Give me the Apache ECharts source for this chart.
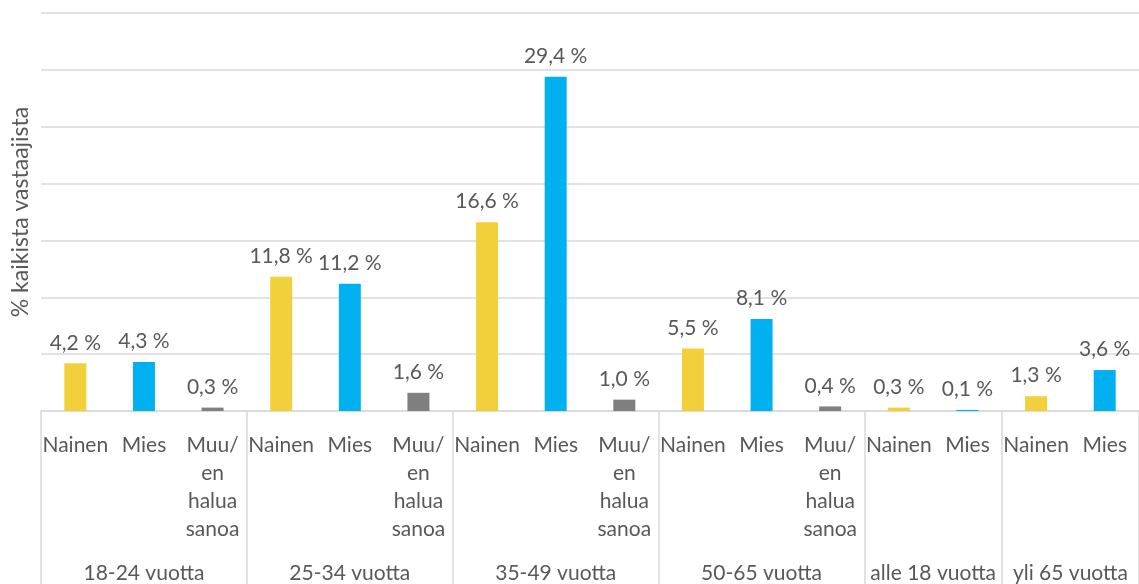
<!DOCTYPE html>
<html>
<head>
<meta charset="utf-8">
<script src="https://cdn.jsdelivr.net/npm/echarts@6/dist/echarts.min.js"></script>
<style>html,body{margin:0;padding:0;background:#fff;}#c{width:1139px;height:584px;}</style>
</head>
<body>
<div id="c"></div>
<script>
// Data
const itemLabels = ['Nainen','Mies','Muu/\nen\nhalua\nsanoa','Nainen','Mies','Muu/\nen\nhalua\nsanoa','Nainen','Mies','Muu/\nen\nhalua\nsanoa','Nainen','Mies','Muu/\nen\nhalua\nsanoa','Nainen','Mies','Nainen','Mies'];
const itemKinds = ['N','M','O','N','M','O','N','M','O','N','M','O','N','M','N','M'];
const values = [4.2, 4.3, 0.3, 11.8, 11.2, 1.6, 16.6, 29.4, 1.0, 5.5, 8.1, 0.4, 0.3, 0.1, 1.3, 3.6];
const groupNames = ['18-24 vuotta','25-34 vuotta','35-49 vuotta','50-65 vuotta','alle 18 vuotta','yli 65 vuotta'];
const groupSizes = [3, 3, 3, 3, 2, 2];
const yTitle = '% kaikista vastaajista';

const palette = { N: '#F2D03B', M: '#00B0F0', O: '#7F7F7F' };
const textColor = '#595959';
const gridColor = '#D9D9D9';
const FONT = 'Lato';

// group boundaries and centers
const bounds = [0];
groupSizes.forEach(s => bounds.push(bounds[bounds.length - 1] + s));
const centers = groupSizes.map((s, i) => bounds[i] + s / 2);

const chart = echarts.init(document.getElementById('c'), null, { renderer: 'canvas' });
chart.setOption({
  animation: false,
  textStyle: { fontFamily: FONT },
  grid: { left: 41, right: -7, top: 13, bottom: 173, containLabel: false },
  xAxis: [
    {
      type: 'category',
      data: itemLabels,
      axisLine: { show: true, lineStyle: { color: gridColor, width: 1.5 } },
      axisTick: { show: false },
      axisLabel: { interval: 0, color: textColor, fontSize: 21, fontFamily: FONT, margin: 20, lineHeight: 28, verticalAlign: 'top' },
      splitLine: { show: false }
    },
    {
      type: 'value',
      position: 'bottom',
      min: 0,
      max: bounds[bounds.length - 1],
      axisLine: { show: false },
      splitLine: { show: false },
      axisTick: { show: true, customValues: bounds, length: 173, lineStyle: { color: gridColor, width: 1.5 } },
      axisLabel: {
        show: true,
        customValues: centers,
        margin: 152,
        color: textColor,
        fontSize: 21,
        fontFamily: FONT,
        formatter: v => {
          const i = centers.findIndex(c => Math.abs(c - v) < 1e-6);
          return i >= 0 ? groupNames[i] : '';
        }
      }
    }
  ],
  yAxis: {
    type: 'value',
    min: 0,
    max: 35,
    interval: 5,
    name: yTitle,
    nameLocation: 'middle',
    nameGap: 9,
    nameTextStyle: { color: textColor, fontSize: 23, fontFamily: FONT },
    axisLine: { show: false },
    axisTick: { show: false },
    axisLabel: { show: false },
    splitLine: { show: true, lineStyle: { color: gridColor, width: 1.5 } }
  },
  series: [{
    type: 'bar',
    xAxisIndex: 0,
    yAxisIndex: 0,
    barWidth: 22,
    data: values.map((v, i) => ({ value: v, itemStyle: { color: palette[itemKinds[i]] } })),
    label: {
      show: true,
      position: 'top',
      distance: 10,
      color: textColor,
      fontSize: 21,
      fontFamily: FONT,
      formatter: p => p.value.toFixed(1).replace('.', ',') + ' %'
    }
  }]
});
</script>
</body>
</html>
